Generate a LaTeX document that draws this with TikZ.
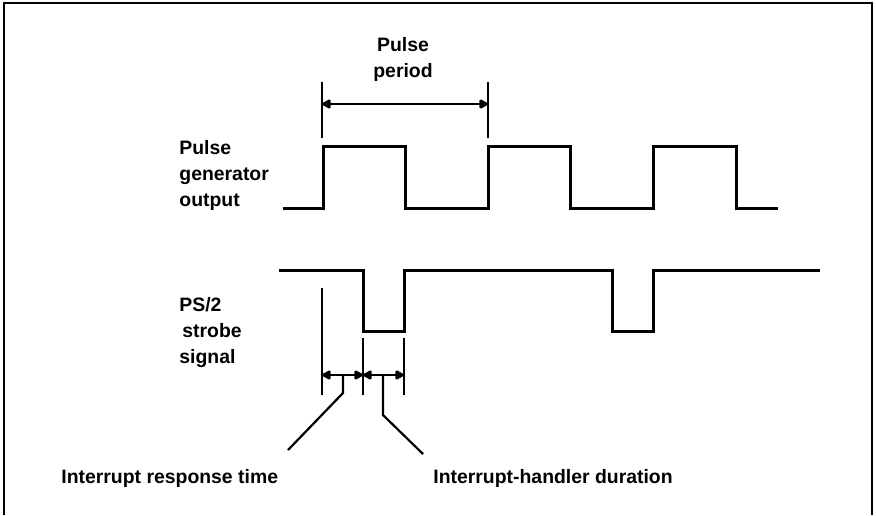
\documentclass[tikz,border=0pt]{standalone}
\usepackage{fontspec}
\setmainfont{Liberation Sans}
\usetikzlibrary{arrows.meta}
\begin{document}
\begin{tikzpicture}[x=0.5pt,y=-0.5pt,
  frame/.style={line width=1pt},
  sig/.style={line width=1.5pt, line join=miter},
  tick/.style={line width=1.3pt},
  dimarrow/.style={line width=1.2pt, {Triangle[length=5pt,width=5pt,round]}-{Triangle[length=5pt,width=5pt,round]}},
  leader/.style={line width=1.1pt},
  lbl/.style={font=\bfseries\fontsize{9.7}{13}\selectfont, inner sep=0pt, align=left},
  ttl/.style={font=\bfseries\fontsize{9.7}{13}\selectfont, inner sep=0pt, align=center}
]
\useasboundingbox (0,0) rectangle (876,515);
% frame
\draw[frame] (4,515) -- (4,3) -- (872,3) -- (872,515);

% labels
\node[ttl] (title) at (403,59) {Pulse\\period};
\node[lbl, anchor=west] (pgo) at (179,175) {Pulse\\generator\\output};
\node[lbl, anchor=west] (ps2) at (179,333) {PS/2\\\hspace*{1.5pt}strobe\\signal};
\node[lbl, anchor=west] (irt) at (61,478) {Interrupt response time};
\node[lbl, anchor=west] (ihd) at (433,478) {Interrupt-handler duration};

% pulse generator output
\draw[sig] (283,208) -- (323,208) -- (323,146) -- (405,146) -- (405,208)
  -- (488,208) -- (488,146) -- (570,146) -- (570,208) -- (653,208)
  -- (653,146) -- (736,146) -- (736,208) -- (778,208);

% PS/2 strobe signal
\draw[sig] (279,270) -- (363,270) -- (363,331) -- (404,331) -- (404,270)
  -- (612,270) -- (612,331) -- (653,331) -- (653,270) -- (820,270);

% pulse period dimension
\coordinate (pA) at (322,104);
\coordinate (pB) at (488,104);
\draw[tick] (322,82) -- (322,138);
\draw[tick] (488,82) -- (488,138);
\draw[dimarrow] (pA) -- (pB);

% interrupt dimensions
\coordinate (iA) at (322,375);
\coordinate (iB) at (363,375);
\coordinate (iC) at (404,375);
\draw[tick] (322,288) -- (322,395);
\draw[tick] (363,338) -- (363,395);
\draw[tick] (404,338) -- (404,395);
\draw[dimarrow] (iA) -- (iB);
\draw[dimarrow] (iB) -- (iC);

% leaders
\coordinate (l1) at (343,375);
\coordinate (l1e) at (288,450);
\coordinate (l2) at (383,375);
\coordinate (l2e) at (423,454);
\draw[leader] (l1) -- (343,393) -- (l1e);
\draw[leader] (l2) -- (383,415) -- (l2e);
\end{tikzpicture}
\end{document}
